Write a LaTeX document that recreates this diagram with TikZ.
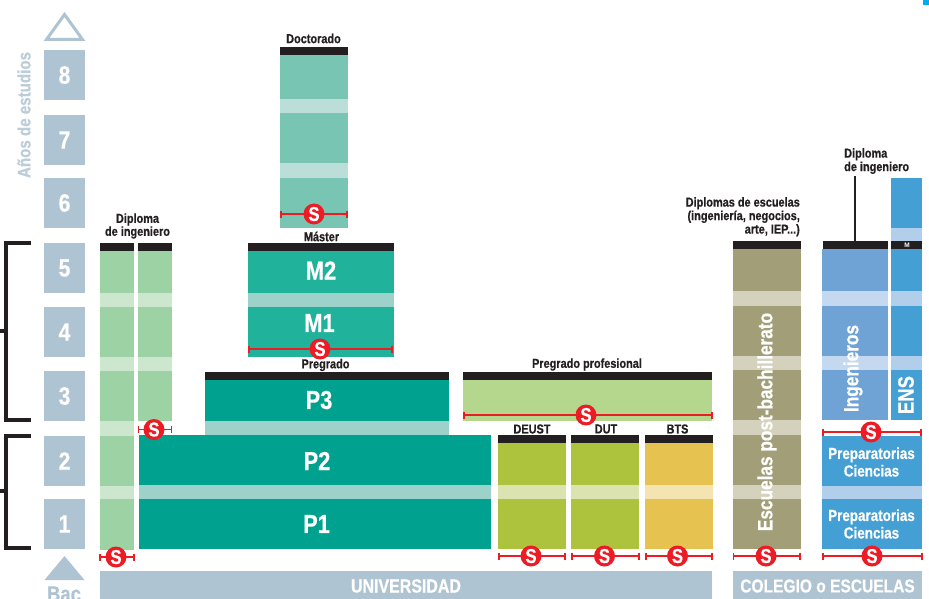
\documentclass[tikz,border=0pt]{standalone}
\usepackage{fontspec}
\setmainfont{Liberation Sans}
\newfontfamily\cond[FakeStretch=0.84,BoldFeatures={FakeStretch=0.84,FakeBold=0.6}]{Liberation Sans}
\definecolor{yr}{HTML}{AFC4D2}
\definecolor{ink}{HTML}{231F20}
\definecolor{sred}{HTML}{ED1C24}
\definecolor{grn}{HTML}{9CD2A4}\definecolor{grnb}{HTML}{CDE7CF}
\definecolor{teal}{HTML}{00A28F}\definecolor{tealb}{HTML}{9CD2C9}
\definecolor{mast}{HTML}{20B29B}
\definecolor{doc}{HTML}{78C5B3}\definecolor{docb}{HTML}{BBDFD8}
\definecolor{pale}{HTML}{B4D78D}
\definecolor{oli}{HTML}{ADC23D}\definecolor{olib}{HTML}{DBE4B0}
\definecolor{bts}{HTML}{E6C351}\definecolor{btsb}{HTML}{F3E4B1}
\definecolor{esc}{HTML}{A29F78}\definecolor{escb}{HTML}{D4D2BD}
\definecolor{ing}{HTML}{6FA3D6}\definecolor{ingb}{HTML}{C4D9EF}
\definecolor{blu}{HTML}{449FD5}\definecolor{blub}{HTML}{B1CFEA}
\definecolor{corner}{HTML}{00AEEF}
\tikzset{
  lab/.style={inner sep=0pt,text=ink,font=\cond\bfseries\fontsize{13}{13.5}\selectfont,align=center},
  big/.style={inner sep=0pt,text=white,font=\cond\bfseries\fontsize{26}{27}\selectfont},
  yearnum/.style={inner sep=0pt,text=white,font=\cond\bfseries\fontsize{25}{26}\selectfont},
  prep/.style={inner sep=0pt,text=white,align=center,font=\cond\bfseries\fontsize{16}{17.5}\selectfont},
  vert/.style={inner sep=0pt,text=white,rotate=90,font=\cond\bfseries\fontsize{20.5}{21}\selectfont},
  foot/.style={inner sep=0pt,text=white,font=\cond\bfseries\fontsize{19}{20}\selectfont},
  brack/.style={draw=ink,line width=4pt,line cap=butt,line join=miter},
}
\newcommand\bx[5]{\fill[#5] (#1,#2) rectangle (#3,#4);}
% x1 x2 cx y
\newcommand\smark[4]{%
  \draw[sred,line width=1.9pt] (#1,#4)--(#2,#4);
  \draw[sred,line width=1.9pt] (#1,#4-3.5)--(#1,#4+3.5);
  \draw[sred,line width=1.9pt] (#2,#4-3.5)--(#2,#4+3.5);
  \fill[sred] (#3,#4) circle (10.5);
  \node[inner sep=0pt,text=white,font=\cond\bfseries\fontsize{20}{21}\selectfont] at (#3,#4) {S};}
\begin{document}
\begin{tikzpicture}[x=1pt,y=-1pt]
\useasboundingbox (0,0) rectangle (929,599);
\fill[white] (0,0) rectangle (929,599);
\bx{923}{0}{929}{5}{corner}
% year column
\draw[yr,line width=3pt,line join=miter] (46.5,39.5)--(64.5,14.5)--(82.5,39.5)--cycle;
\bx{44}{50}{85}{100}{yr}\bx{44}{115}{85}{165}{yr}\bx{44}{178}{85}{228}{yr}\bx{44}{243}{85}{293}{yr}
\bx{44}{307}{85}{357}{yr}\bx{44}{371}{85}{421}{yr}\bx{44}{436}{85}{486}{yr}\bx{44}{499}{85}{549}{yr}
\node[yearnum] (y8) at (64.5,75) {8};
\node[yearnum] (y7) at (64.5,140) {7};
\node[yearnum] (y6) at (64.5,203) {6};
\node[yearnum] (y5) at (64.5,268) {5};
\node[yearnum] (y4) at (64.5,332) {4};
\node[yearnum] (y3) at (64.5,396) {3};
\node[yearnum] (y2) at (64.5,461) {2};
\node[yearnum] (y1) at (64.5,524) {1};
\fill[yr] (64.5,556)--(84.5,580)--(44.5,580)--cycle;
\node[inner sep=0pt,text=yr,font=\cond\bfseries\fontsize{22}{23}\selectfont] (bac) at (64,594) {Bac};
\node[inner sep=0pt,text=yr!85!white,rotate=90,font=\cond\bfseries\fontsize{18}{19}\selectfont] (anos) at (24,115) {Años de estudios};
% brackets
\draw[brack] (31,243)--(6,243)--(6,420)--(31,420);
\draw[brack] (0,331)--(6,331);
\draw[brack] (31,436)--(6,436)--(6,548)--(31,548);
\draw[brack] (0,491)--(6,491);
% green columns
\bx{100}{243}{134}{251}{ink}\bx{138}{243}{172}{251}{ink}
\bx{100}{251}{134}{550}{grn}\bx{138}{251}{172}{421}{grn}
\foreach \a/\b in {293/307,357/371,421/436,486/499}{\bx{100}{\a}{134}{\b}{grnb}}
\foreach \a/\b in {293/307,357/371}{\bx{138}{\a}{172}{\b}{grnb}}
\node[lab] (dip1) at (137.5,226) {Diploma\\[-0.5pt]de ingeniero};
% teal
\bx{139}{435}{491}{549}{teal}\bx{139}{485}{491}{499}{tealb}
\bx{205}{372}{449}{380}{ink}\bx{205}{380}{449}{421}{teal}\bx{205}{421}{449}{435}{tealb}
\node[big] (p1) at (316.5,524) {P1};
\node[big] (p2) at (317,461) {P2};
\node[big] (p3) at (319,400) {P3};
\node[lab] (pre) at (325.5,365) {Pregrado};
% master
\bx{248}{243}{394}{251}{ink}\bx{248}{251}{394}{357}{mast}\bx{248}{293}{394}{307}{tealb}
\node[big] (m2) at (321,270.5) {M2};
\node[big] (m1) at (319.5,323) {M1};
\node[lab] (mas) at (321.5,236.5) {Máster};
% doctorado
\bx{280}{47}{348}{55}{ink}\bx{280}{55}{348}{228}{doc}\bx{280}{99}{348}{113}{docb}\bx{280}{163}{348}{178}{docb}
\node[lab] (doc) at (313.5,38.5) {Doctorado};
% pregrado profesional
\bx{463}{372}{712}{380}{ink}\bx{463}{380}{712}{421}{pale}
\node[lab] (pp) at (587,364.5) {Pregrado profesional};
% DEUST DUT BTS
\foreach \l/\r/\c/\d in {498/566/oli/olib,571/639/oli/olib,645/713/bts/btsb}{
  \bx{\l}{435}{\r}{443}{ink}\bx{\l}{443}{\r}{549}{\c}\bx{\l}{485}{\r}{499}{\d}}
\node[lab] (deust) at (532,429) {DEUST};
\node[lab] (dut) at (606,429) {DUT};
\node[lab] (bts) at (677.5,429) {BTS};
% escuelas
\bx{733}{241}{801}{249}{ink}\bx{733}{249}{801}{549}{esc}
\foreach \a/\b in {291/306,356/370,420/435,485/499}{\bx{733}{\a}{801}{\b}{escb}}
\node[vert] (esct) at (767,422) {Escuelas post-bachillerato};
\node[lab,align=right,anchor=north east] (dipe) at (800,197) {Diplomas de escuelas\\(ingeniería, negocios,\\arte, IEP...)};
% ingenieros
\bx{822}{249}{888}{420}{ing}\bx{823}{241}{888}{249}{ink}
\foreach \a/\b in {291/306,356/370}{\bx{822}{\a}{888}{\b}{ingb}}
\node[vert] (ingt) at (853,368.5) {Ingenieros};
\node[lab,align=left,anchor=north west] (dip2) at (844,148) {Diploma\\de ingeniero};
\coordinate (dipfoot) at (855,176);
\coordinate (dipbar) at (855,241);
\draw[ink,line width=1.8pt] (dipfoot)--(dipbar);
% ENS column
\bx{891}{178}{922}{228}{blu}\bx{891}{228}{922}{241}{blub}\bx{891}{241}{922}{249}{ink}
\bx{891}{249}{922}{420}{blu}
\foreach \a/\b in {291/306,356/370}{\bx{891}{\a}{922}{\b}{blub}}
\node[inner sep=0pt,text=white,font=\bfseries\fontsize{6.5}{7}\selectfont] (mm) at (907,245.5) {M};
\node[vert,font=\cond\bfseries\fontsize{22}{23}\selectfont] (ens) at (906,395) {ENS};
% preparatorias
\bx{822}{436}{922}{549}{blu}\bx{822}{486}{922}{499}{blub}
\node[prep] (pr2) at (871.5,462) {Preparatorias\\Ciencias};
\node[prep] (pr1) at (871.5,524) {Preparatorias\\Ciencias};
% footer
\bx{100}{571}{712}{599}{yr}\bx{733}{571}{922}{599}{yr}
\node[foot] (uni) at (406,586) {UNIVERSIDAD};
\node[foot,font=\cond\bfseries\fontsize{18.5}{20}\selectfont] (col) at (827.5,586) {COLEGIO o ESCUELAS};
% S markers on top
\smark{100}{134}{116}{557}
\smark{138.5}{171.5}{154}{429.5}
\smark{249}{392}{320}{349}
\smark{281}{347}{314}{214}
\smark{464}{712}{586}{415}
\smark{499}{565}{531}{556}
\smark{572}{639}{604.5}{556}
\smark{646}{712}{677.5}{556}
\smark{733.5}{800}{766}{556}
\smark{823}{921}{871}{432}
\smark{823}{922}{872}{556}
\end{tikzpicture}
\end{document}
